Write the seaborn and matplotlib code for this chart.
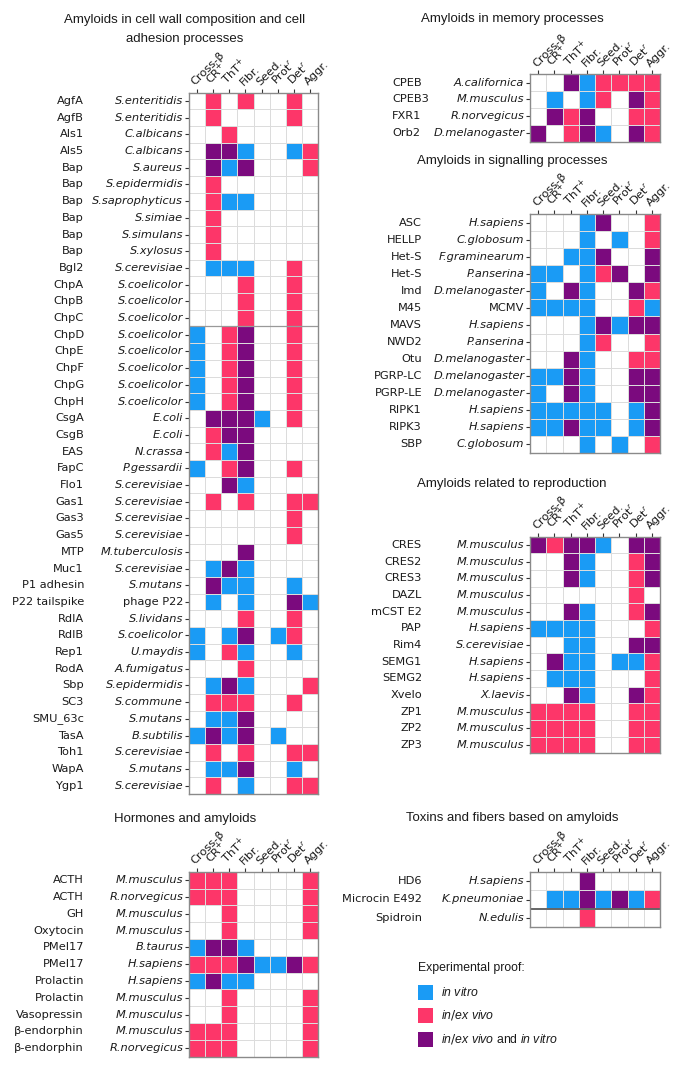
import numpy as np
import pandas as pd
import matplotlib
matplotlib.use("Agg")
import matplotlib.pyplot as plt
import seaborn as sns
from matplotlib.colors import ListedColormap
from matplotlib.patches import Rectangle
from matplotlib.transforms import blended_transform_factory

sns.set_theme(style="white")
plt.rcParams["font.family"] = ["DejaVu Sans"]
plt.rcParams["mathtext.fontset"] = "custom"
plt.rcParams["mathtext.rm"] = "DejaVu Sans"
plt.rcParams["mathtext.it"] = "Liberation Sans:italic"

# ---------------- data ----------------
# 0 = none, 1 = in vitro, 2 = in/ex vivo, 3 = in/ex vivo and in vitro
columns = ["Cross-β", r"CR$^{+}$", r"ThT$^{+}$", "Fibr.", "Seed.", r"Prot$^{r}$", r"Det$^{r}$", "Aggr."]

cell_genes = ["AgfA", "AgfB", "Als1", "Als5", "Bap", "Bap", "Bap", "Bap", "Bap", "Bap", "Bgl2",
              "ChpA", "ChpB", "ChpC", "ChpD", "ChpE", "ChpF", "ChpG", "ChpH", "CsgA", "CsgB", "EAS",
              "FapC", "Flo1", "Gas1", "Gas3", "Gas5", "MTP", "Muc1", "P1 adhesin", "P22 tailspike",
              "RdlA", "RdlB", "Rep1", "RodA", "Sbp", "SC3", "SMU_63c", "TasA", "Toh1", "WapA", "Ygp1"]
cell_species = ["S.enteritidis", "S.enteritidis", "C.albicans", "C.albicans", "S.aureus", "S.epidermidis",
                "S.saprophyticus", "S.simiae", "S.simulans", "S.xylosus", "S.cerevisiae",
                "S.coelicolor", "S.coelicolor", "S.coelicolor", "S.coelicolor", "S.coelicolor",
                "S.coelicolor", "S.coelicolor", "S.coelicolor", "E.coli", "E.coli", "N.crassa",
                "P.gessardii", "S.cerevisiae", "S.cerevisiae", "S.cerevisiae", "S.cerevisiae",
                "M.tuberculosis", "S.cerevisiae", "S.mutans", "phage P22", "S.lividans", "S.coelicolor",
                "U.maydis", "A.fumigatus", "S.epidermidis", "S.commune", "S.mutans", "B.subtilis",
                "S.cerevisiae", "S.mutans", "S.cerevisiae"]
cell_values = [
    [0, 2, 0, 2, 0, 0, 2, 0], [0, 2, 0, 0, 0, 0, 2, 0], [0, 0, 2, 0, 0, 0, 0, 0],
    [0, 3, 3, 1, 0, 0, 1, 2], [0, 3, 1, 3, 0, 0, 0, 2], [0, 2, 0, 0, 0, 0, 0, 0],
    [0, 2, 1, 1, 0, 0, 0, 0], [0, 2, 0, 0, 0, 0, 0, 0], [0, 2, 0, 0, 0, 0, 0, 0],
    [0, 2, 0, 0, 0, 0, 0, 0], [0, 1, 1, 1, 0, 0, 2, 0],
    [0, 0, 0, 2, 0, 0, 2, 0], [0, 0, 0, 2, 0, 0, 2, 0], [0, 0, 0, 2, 0, 0, 2, 0],
    [1, 0, 2, 3, 0, 0, 2, 0], [1, 0, 2, 3, 0, 0, 2, 0], [1, 0, 2, 3, 0, 0, 2, 0],
    [1, 0, 2, 3, 0, 0, 2, 0], [1, 0, 2, 3, 0, 0, 2, 0],
    [0, 3, 3, 3, 1, 0, 2, 0], [0, 2, 3, 3, 0, 0, 0, 0], [0, 2, 1, 3, 0, 0, 0, 0],
    [1, 0, 2, 3, 0, 0, 2, 0], [0, 0, 3, 1, 0, 0, 0, 0], [0, 2, 0, 2, 0, 0, 2, 2],
    [0, 0, 0, 0, 0, 0, 2, 0], [0, 0, 0, 0, 0, 0, 2, 0], [0, 0, 0, 3, 0, 0, 0, 0],
    [0, 1, 3, 1, 0, 0, 0, 0], [0, 3, 1, 1, 0, 0, 1, 0], [0, 1, 0, 1, 0, 0, 3, 1],
    [0, 0, 0, 2, 0, 0, 2, 0], [1, 0, 1, 3, 0, 1, 2, 0], [1, 0, 2, 1, 0, 0, 1, 0],
    [0, 0, 0, 2, 0, 0, 0, 0], [0, 1, 3, 1, 0, 0, 0, 2], [0, 2, 2, 2, 0, 0, 2, 0],
    [0, 1, 1, 3, 0, 0, 0, 0], [1, 3, 1, 3, 0, 1, 0, 0], [0, 2, 0, 2, 0, 0, 2, 2],
    [0, 1, 1, 3, 0, 0, 1, 0], [0, 2, 0, 1, 0, 0, 2, 2],
]

hormone_genes = ["ACTH", "ACTH", "GH", "Oxytocin", "PMel17", "PMel17", "Prolactin", "Prolactin",
                 "Vasopressin", "β-endorphin", "β-endorphin"]
hormone_species = ["M.musculus", "R.norvegicus", "M.musculus", "M.musculus", "B.taurus", "H.sapiens",
                   "H.sapiens", "M.musculus", "M.musculus", "M.musculus", "R.norvegicus"]
hormone_values = [
    [2, 2, 2, 0, 0, 0, 0, 2], [2, 2, 2, 0, 0, 0, 0, 2], [0, 0, 2, 0, 0, 0, 0, 2],
    [0, 0, 2, 0, 0, 0, 0, 2], [1, 3, 3, 1, 0, 0, 0, 0], [2, 2, 2, 3, 1, 1, 3, 2],
    [1, 3, 1, 1, 0, 0, 0, 0], [0, 0, 2, 0, 0, 0, 0, 2], [0, 0, 2, 0, 0, 0, 0, 2],
    [2, 2, 2, 0, 0, 0, 0, 2], [2, 2, 2, 0, 0, 0, 0, 2],
]

memory_genes = ["CPEB", "CPEB3", "FXR1", "Orb2"]
memory_species = ["A.californica", "M.musculus", "R.norvegicus", "D.melanogaster"]
memory_values = [
    [0, 0, 3, 1, 2, 2, 2, 2], [0, 1, 0, 1, 2, 0, 3, 2],
    [0, 3, 2, 3, 0, 0, 2, 2], [3, 0, 2, 3, 1, 0, 3, 2],
]

signal_genes = ["ASC", "HELLP", "Het-S", "Het-S", "Imd", "M45", "MAVS", "NWD2", "Otu", "PGRP-LC",
                "PGRP-LE", "RIPK1", "RIPK3", "SBP"]
signal_species = ["H.sapiens", "C.globosum", "F.graminearum", "P.anserina", "D.melanogaster", "MCMV",
                  "H.sapiens", "P.anserina", "D.melanogaster", "D.melanogaster", "D.melanogaster",
                  "H.sapiens", "H.sapiens", "C.globosum"]
signal_values = [
    [0, 0, 0, 1, 3, 0, 0, 2], [0, 0, 0, 1, 0, 1, 0, 2], [0, 0, 1, 1, 3, 0, 0, 3],
    [1, 1, 0, 1, 2, 3, 0, 3], [1, 0, 3, 1, 0, 0, 3, 2], [1, 1, 1, 1, 0, 0, 2, 1],
    [0, 0, 0, 1, 3, 1, 3, 3], [0, 0, 0, 1, 2, 0, 0, 2], [0, 0, 3, 1, 0, 0, 2, 2],
    [1, 1, 3, 1, 0, 0, 3, 3], [1, 0, 3, 1, 0, 0, 3, 3], [1, 1, 1, 1, 1, 0, 1, 3],
    [1, 1, 3, 1, 1, 0, 1, 3], [0, 0, 0, 1, 0, 1, 0, 2],
]

repro_genes = ["CRES", "CRES2", "CRES3", "DAZL", "mCST E2", "PAP", "Rim4", "SEMG1", "SEMG2", "Xvelo",
               "ZP1", "ZP2", "ZP3"]
repro_species = ["M.musculus", "M.musculus", "M.musculus", "M.musculus", "M.musculus", "H.sapiens",
                 "S.cerevisiae", "H.sapiens", "H.sapiens", "X.laevis", "M.musculus", "M.musculus",
                 "M.musculus"]
repro_values = [
    [3, 2, 3, 3, 1, 0, 3, 3], [0, 0, 3, 1, 0, 0, 2, 3], [0, 0, 3, 1, 0, 0, 2, 3],
    [0, 0, 0, 0, 0, 0, 2, 0], [0, 0, 3, 1, 0, 0, 2, 3], [1, 1, 1, 1, 0, 0, 0, 2],
    [0, 0, 1, 1, 0, 0, 3, 3], [0, 3, 1, 1, 0, 1, 1, 2], [0, 1, 1, 1, 0, 0, 0, 2],
    [0, 0, 3, 1, 0, 0, 3, 2], [2, 2, 2, 2, 0, 0, 2, 2], [2, 2, 2, 2, 0, 0, 2, 2],
    [2, 2, 2, 2, 0, 0, 2, 2],
]

toxin_genes = ["HD6", "Microcin E492", "Spidroin"]
toxin_species = ["H.sapiens", "K.pneumoniae", "N.edulis"]
toxin_values = [
    [0, 0, 0, 3, 0, 0, 0, 0], [0, 1, 1, 3, 1, 3, 1, 2], [0, 0, 0, 2, 0, 0, 0, 0],
]

legend_labels = [r"$\mathit{in\ vitro}$", r"$\mathit{in/ex\ vivo}$",
                 r"$\mathit{in/ex\ vivo}$ and $\mathit{in\ vitro}$"]
palette = ["#FFFFFF", "#1A9BF5", "#FD3669", "#7B0A7E"]

# ---------------- drawing ----------------
W, H = 685, 1073
fig = plt.figure(figsize=(W / 100, H / 100), dpi=100)
cmap = ListedColormap(palette)
non_italic = {"phage P22", "MCMV"}
FS = 8.2
TFS = 9.5


def rect(x0, y0, x1, y1):
    return [x0 / W, 1 - y1 / H, (x1 - x0) / W, (y1 - y0) / H]


def panel(genes, species, values, box, gene_x, gene_ha, title, title_xy, seps=()):
    ax = fig.add_axes(rect(*box))
    df = pd.DataFrame(values, columns=range(len(columns)))
    sns.heatmap(df, ax=ax, cmap=cmap, vmin=-0.5, vmax=3.5, cbar=False,
                linewidths=0.6, linecolor="#dcdcdc")
    ax.set_xticks(np.arange(len(columns)) + 0.5)
    ax.xaxis.tick_top()
    ax.set_xticklabels(columns, rotation=45, ha="left", va="bottom",
                       rotation_mode="anchor", fontsize=FS, color="#1a1a1a")
    ax.set_yticks(np.arange(len(species)) + 0.5)
    ax.set_yticklabels(species, fontsize=FS, color="#1a1a1a", rotation=0)
    for lab in ax.get_yticklabels():
        if lab.get_text() not in non_italic:
            lab.set_fontstyle("italic")
    ax.tick_params(axis="x", top=True, bottom=False, length=3, width=0.8,
                   color="#333333", pad=1)
    ax.tick_params(axis="y", left=True, length=3, width=0.8, color="#333333", pad=1)
    ax.set_xlabel("")
    ax.set_ylabel("")
    for s in ax.spines.values():
        s.set_visible(True)
        s.set_color("#8a8a8a")
        s.set_linewidth(1.0)
    for y, lw, col in seps:
        ax.axhline(y, color=col, lw=lw)
    trans = blended_transform_factory(fig.transFigure, ax.transData)
    for i, g in enumerate(genes):
        ax.text(gene_x / W, i + 0.5, g, transform=trans, ha=gene_ha, va="center",
                fontsize=FS, color="#1a1a1a")
    fig.text(title_xy[0] / W, 1 - title_xy[1] / H, title, ha="center", va="center",
             fontsize=TFS, family="Liberation Sans", color="#1a1a1a", linespacing=1.85)
    return ax


panel(cell_genes, cell_species, cell_values, (188.7, 92.6, 318.3, 794.0), 84, "right",
      "Amyloids in cell wall composition and cell\nadhesion processes", (185, 29.5),
      seps=[(14, 0.9, "#999999")])
panel(hormone_genes, hormone_species, hormone_values, (188.7, 871.7, 318.3, 1056.5), 84, "right",
      "Hormones and amyloids", (185, 819))
panel(memory_genes, memory_species, memory_values, (530, 74.3, 660, 141.5), 392, "left",
      "Amyloids in memory processes", (512, 19))
panel(signal_genes, signal_species, signal_values, (530, 214, 660, 453), 422, "right",
      "Amyloids in signalling processes", (512, 161))
panel(repro_genes, repro_species, repro_values, (530, 536.7, 660, 753.3), 422, "right",
      "Amyloids related to reproduction", (512, 484))
panel(toxin_genes, toxin_species, toxin_values, (530, 871.7, 660, 927.3), 422, "right",
      "Toxins and fibers based on amyloids", (512, 818),
      seps=[(2, 1.4, "#666666")])

# legend
fig.text(418 / W, 1 - 968 / H, "Experimental proof:", ha="left", va="center",
         fontsize=8.8, family="Liberation Sans", color="#1a1a1a")
for k, lab in enumerate(legend_labels):
    yc = 992 + 23.5 * k
    fig.add_artist(Rectangle((418 / W, 1 - (yc + 7.5) / H), 15 / W, 15 / H,
                             transform=fig.transFigure, facecolor=palette[k + 1],
                             edgecolor="none"))
    fig.text(441 / W, 1 - yc / H, lab, ha="left", va="center", fontsize=8.8,
             family="Liberation Sans", color="#1a1a1a")

fig.savefig("out.png", dpi=100)
